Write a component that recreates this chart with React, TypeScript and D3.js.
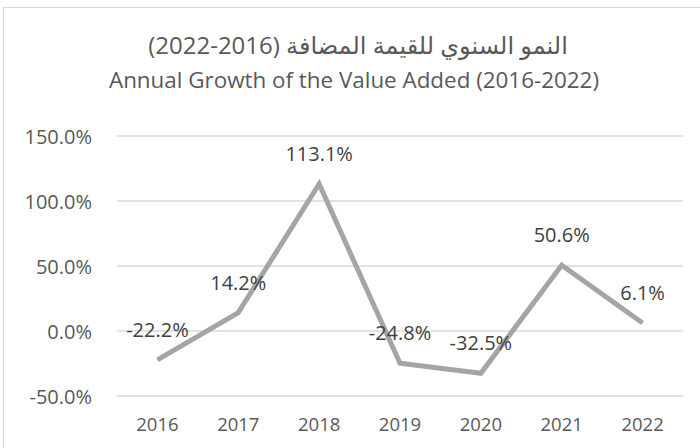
import React, { useEffect, useRef } from 'react';
import * as d3 from 'd3';

const years = ['2016', '2017', '2018', '2019', '2020', '2021', '2022'];
const growth = [-22.2, 14.2, 113.1, -24.8, -32.5, 50.6, 6.1];
const yTicks = [-50, 0, 50, 100, 150];
const titleAr = 'النمو السنوي للقيمة المضافة (2016-2022)';
const titleEn = 'Annual Growth of the Value Added (2016-2022)';

export default function App() {
    const ref = useRef<SVGSVGElement>(null);

    useEffect(() => {
        const svg = d3.select(ref.current);
        svg.selectAll('*').remove();

        const width = 700, height = 448;
        const pad = { left: 117, right: 17, top: 136, bottom: 52 };
        const font = '"Open Sans", "DejaVu Sans", sans-serif';

        // chart frame (cut off at right and bottom in the original)
        svg.append('rect')
            .attr('x', 3.5).attr('y', 7.5)
            .attr('width', 720).attr('height', 460)
            .attr('fill', '#fff')
            .attr('stroke', '#d9d9d9');

        const x = d3.scaleBand()
            .domain(years)
            .range([pad.left, width - pad.right]);
        const y = d3.scaleLinear()
            .domain([-50, 150])
            .range([height - pad.bottom, pad.top]);
        const cx = (i: number) => (x(years[i]) as number) + x.bandwidth() / 2;

        // gridlines
        svg.append('g')
            .selectAll('line')
            .data(yTicks)
            .join('line')
            .attr('x1', pad.left).attr('x2', width - pad.right)
            .attr('y1', d => y(d)).attr('y2', d => y(d))
            .attr('stroke', '#d9d9d9')
            .attr('stroke-width', 1.3);

        // y axis labels
        svg.append('g')
            .selectAll('text')
            .data(yTicks)
            .join('text')
            .attr('x', 92)
            .attr('y', d => y(d) + 7.5)
            .attr('text-anchor', 'end')
            .attr('fill', '#595959')
            .style('font', `20px ${font}`)
            .text(d => d.toFixed(1) + '%');

        // x axis labels
        svg.append('g')
            .selectAll('text')
            .data(years)
            .join('text')
            .attr('x', (d, i) => cx(i))
            .attr('y', 431)
            .attr('text-anchor', 'middle')
            .attr('fill', '#595959')
            .style('font', `18.5px ${font}`)
            .text(d => d);

        const line = d3.line<number>()
            .x((d, i) => cx(i))
            .y(d => y(d));

        svg.append('path')
            .datum(growth)
            .attr('fill', 'none')
            .attr('stroke', '#a5a5a5')
            .attr('stroke-width', 5)
            .attr('stroke-linejoin', 'miter')
            .attr('d', line);

        // data labels
        svg.append('g')
            .selectAll('text')
            .data(growth)
            .join('text')
            .attr('x', (d, i) => cx(i))
            .attr('y', d => y(d) - 23)
            .attr('text-anchor', 'middle')
            .attr('fill', '#404040')
            .style('font', `20px ${font}`)
            .text(d => d.toFixed(1) + '%');

        // titles
        svg.append('text')
            .attr('x', 358).attr('y', 54)
            .attr('text-anchor', 'middle')
            .attr('direction', 'rtl')
            .attr('fill', '#595959')
            .style('font', `24px ${font}`)
            .text(titleAr);
        svg.append('text')
            .attr('x', 354).attr('y', 88)
            .attr('text-anchor', 'middle')
            .attr('fill', '#595959')
            .style('font', `22.4px ${font}`)
            .text(titleEn);
    }, []);

    return (
        <svg ref={ref} width={700} height={448}
            style={{ position: 'absolute', left: 0, top: 0, background: '#fff' }} />
    );
}
